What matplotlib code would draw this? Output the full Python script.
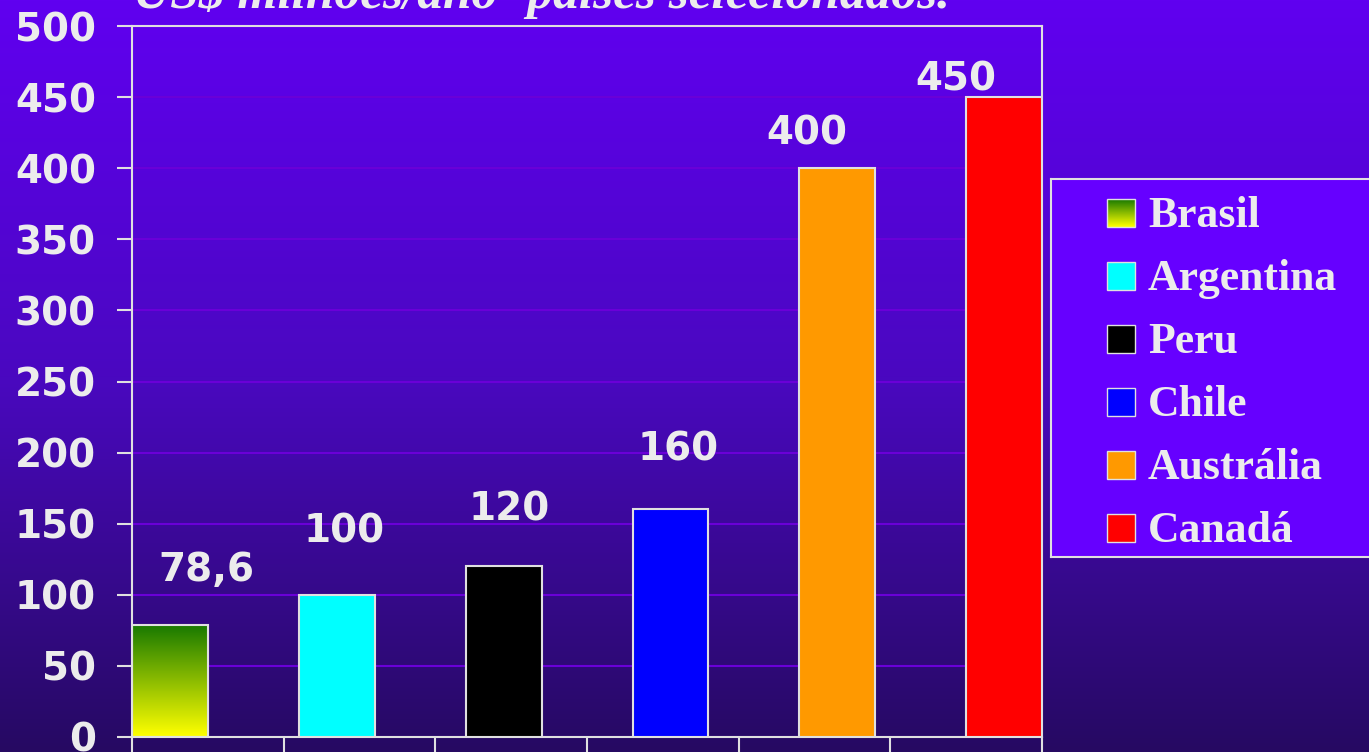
import numpy as np
import matplotlib.pyplot as plt
from matplotlib.colors import LinearSegmentedColormap
from matplotlib.patches import Rectangle

# data
countries = ['Brasil', 'Argentina', 'Peru', 'Chile', 'Austrália', 'Canadá']
values = [78.6, 100, 120, 160, 400, 450]
value_labels = ['78,6', '100', '120', '160', '400', '450']
colors = ['#1a7a00', '#00ffff', '#000000', '#0000ff', '#ff9900', '#ff0000']
title = 'US$ milhões/ano- países selecionados.'

# the value labels were dragged around by hand in the original slide
label_dx = [0.24, 0.05, 0.04, 0.05, -0.2, -0.32]
label_gap = [32, 38, 33, 35, 17, 5]

txt = '#ececec'
line = '#e0e0e0'

fig = plt.figure(figsize=(13.69, 7.52), dpi=100)

# slide background gradient
bg = fig.add_axes([0, 0, 1, 1], zorder=-10)
bg_cmap = LinearSegmentedColormap.from_list('bg', ['#6000f0', '#4a08c0', '#260a62'])
bg.imshow(np.linspace(0, 1, 256).reshape(-1, 1), aspect='auto', cmap=bg_cmap,
          extent=[0, 1, 0, 1])
bg.axis('off')

# main chart
ax = fig.add_axes([132 / 1369, 15 / 752, 910 / 1369, 711 / 752])
ax.set_facecolor('none')

x = np.arange(len(values)) * 1.1
bars = ax.bar(x, values, width=0.5, align='edge', color=colors,
              edgecolor=line, linewidth=1.5, zorder=3)

# Brasil bar has a green -> yellow gradient
grad = LinearSegmentedColormap.from_list('br', ['#ffff00', '#1a7a00'])
b0 = bars[0]
b0.set_facecolor('none')
ax.imshow(np.linspace(0, 1, 100).reshape(-1, 1), cmap=grad, origin='lower',
          aspect='auto', zorder=2.5,
          extent=[b0.get_x(), b0.get_x() + b0.get_width(), 0, b0.get_height()])

for i, b in enumerate(bars):
    ax.annotate(value_labels[i], (b.get_x() + b.get_width() / 2 + label_dx[i], b.get_height()),
                xytext=(0, label_gap[i]), textcoords='offset points',
                ha='center', va='baseline', fontsize=28, fontweight='bold', color=txt)

ax.set_xlim(0, 6)
ax.set_ylim(0, 500)
ax.set_yticks(np.arange(0, 501, 50))
ax.set_xticks(np.arange(0, 7))
ax.set_xticklabels([])
ax.yaxis.grid(True, color='#6a00d8', linewidth=1.5)
ax.set_axisbelow(True)
ax.tick_params(axis='both', colors=line, length=11, width=1.5, direction='out')
ax.tick_params(axis='y', labelsize=28, labelcolor=txt, pad=15)
for lab in ax.get_yticklabels():
    lab.set_fontweight('bold')
for s in ax.spines.values():
    s.set_color(line)
    s.set_linewidth(1.5)

# title (cut off at the top of the slide)
fig.text(133 / 1369, 1 - 8 / 752, title, ha='left', va='baseline', fontsize=37,
         family='Liberation Serif', weight='bold', style='italic', color=txt)

# legend box drawn by hand so the Brasil swatch can keep its gradient
lg = fig.add_axes([1051 / 1369, 195 / 752, 330 / 1369, 378 / 752])
lg.set_facecolor('#6600ff')
lg.set_xticks([])
lg.set_yticks([])
for s in lg.spines.values():
    s.set_color(line)
    s.set_linewidth(1.5)

for i, name in enumerate(countries):
    cy = 34 + 63 * i
    if i == 0:
        lg.imshow(np.linspace(0, 1, 50).reshape(-1, 1), cmap=grad, origin='lower',
                  aspect='auto', extent=[56, 84, cy + 14, cy - 14])
        lg.add_patch(Rectangle((56, cy - 14), 28, 28, facecolor='none', edgecolor=line, lw=1))
    else:
        lg.add_patch(Rectangle((56, cy - 14), 28, 28, facecolor=colors[i], edgecolor=line, lw=1))
    lg.text(97, cy + 14, name, va='baseline', ha='left', fontsize=31.5,
            family='Liberation Serif', weight='bold', color=txt)
lg.set_xlim(0, 330)
lg.set_ylim(378, 0)

fig.savefig('out.png', dpi=100)
